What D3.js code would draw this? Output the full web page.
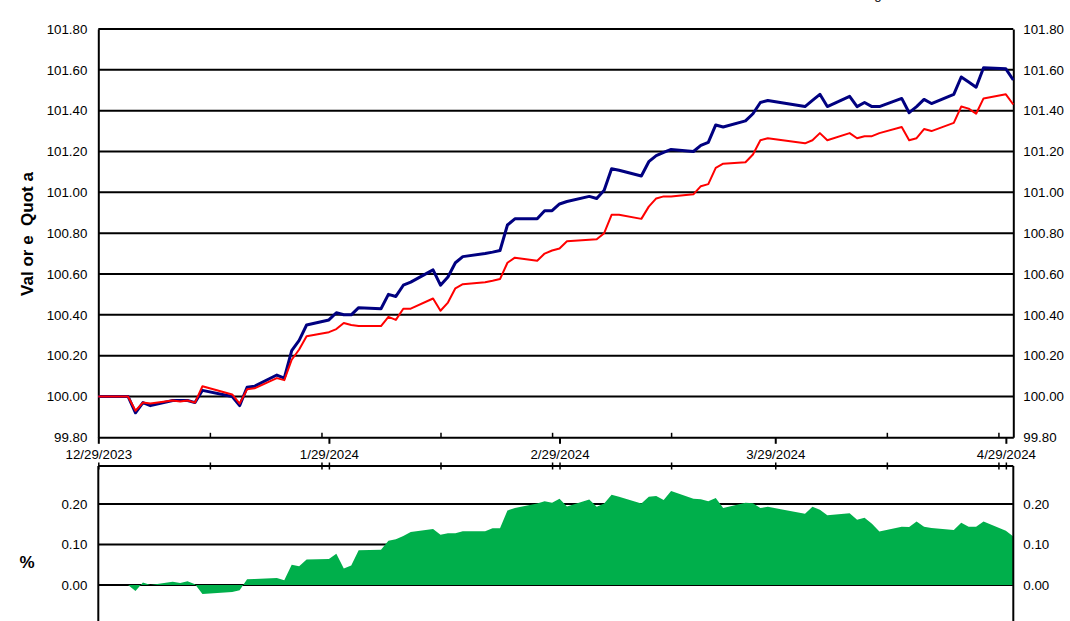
<!DOCTYPE html>
<html>
<head>
<meta charset="utf-8">
<script src="https://cdn.jsdelivr.net/npm/d3@7"></script>
<style>
  html, body { margin: 0; padding: 0; background: #fff; }
  svg { display: block; font-family: "Liberation Sans", Arial, sans-serif; }
</style>
</head>
<body>
<svg id="chart" width="1070" height="621"></svg>
<script>
// ---- data ----
const dates = [
  "2023-12-29","2024-01-02","2024-01-03","2024-01-04","2024-01-05",
  "2024-01-08","2024-01-09","2024-01-10","2024-01-11","2024-01-12",
  "2024-01-16","2024-01-17","2024-01-18","2024-01-19",
  "2024-01-22","2024-01-23","2024-01-24","2024-01-25","2024-01-26",
  "2024-01-29","2024-01-30","2024-01-31","2024-02-01","2024-02-02",
  "2024-02-05","2024-02-06","2024-02-07","2024-02-08","2024-02-09",
  "2024-02-12","2024-02-13","2024-02-14","2024-02-15","2024-02-16",
  "2024-02-19","2024-02-20","2024-02-21","2024-02-22","2024-02-23",
  "2024-02-26","2024-02-27","2024-02-28","2024-02-29","2024-03-01",
  "2024-03-04","2024-03-05","2024-03-06","2024-03-07","2024-03-08",
  "2024-03-11","2024-03-12","2024-03-13","2024-03-14","2024-03-15",
  "2024-03-18","2024-03-19","2024-03-20","2024-03-21","2024-03-22",
  "2024-03-25","2024-03-26","2024-03-27","2024-03-28",
  "2024-04-02","2024-04-03","2024-04-04","2024-04-05",
  "2024-04-08","2024-04-09","2024-04-10","2024-04-11","2024-04-12",
  "2024-04-15","2024-04-16","2024-04-17","2024-04-18","2024-04-19",
  "2024-04-22","2024-04-23","2024-04-24","2024-04-25","2024-04-26",
  "2024-04-29","2024-04-30"
];
const fundValues = [
  100.00,100.00,99.92,99.97,99.955,
  99.98,99.98,99.98,99.97,100.03,
  100.00,99.955,100.045,100.05,
  100.105,100.09,100.225,100.275,100.35,
  100.375,100.41,100.40,100.40,100.435,
  100.43,100.50,100.49,100.545,100.56,
  100.62,100.545,100.585,100.655,100.685,
  100.70,100.707,100.715,100.84,100.87,
  100.87,100.91,100.91,100.943,100.955,
  100.98,100.97,101.01,101.115,101.108,
  101.08,101.15,101.18,101.196,101.21,
  101.20,101.23,101.245,101.33,101.32,
  101.35,101.385,101.44,101.45,
  101.42,101.45,101.48,101.42,
  101.47,101.42,101.44,101.42,101.42,
  101.46,101.39,101.42,101.455,101.435,
  101.48,101.565,101.54,101.515,101.61,
  101.605,101.55
];
const benchmarkValues = [
  100.00,100.00,99.93,99.97,99.965,
  99.98,99.975,99.98,99.97,100.05,
  100.01,99.965,100.035,100.04,
  100.09,100.08,100.18,100.23,100.295,
  100.315,100.33,100.36,100.35,100.345,
  100.345,100.39,100.375,100.43,100.43,
  100.48,100.42,100.46,100.53,100.55,
  100.56,100.567,100.575,100.655,100.68,
  100.665,100.70,100.715,100.725,100.76,
  100.768,100.77,100.80,100.89,100.89,
  100.87,100.93,100.97,100.98,100.98,
  100.99,101.03,101.04,101.12,101.14,
  101.147,101.185,101.255,101.265,
  101.24,101.255,101.29,101.255,
  101.29,101.265,101.275,101.275,101.29,
  101.32,101.255,101.265,101.31,101.30,
  101.34,101.42,101.41,101.385,101.46,
  101.48,101.43
];
const diffValues = [
  0.000,0.000,-0.015,0.006,0.000,
  0.008,0.005,0.009,0.002,-0.022,
  -0.017,-0.013,0.014,0.015,
  0.017,0.012,0.050,0.046,0.063,
  0.064,0.077,0.041,0.048,0.086,
  0.087,0.109,0.113,0.121,0.131,
  0.138,0.124,0.128,0.128,0.133,
  0.133,0.140,0.140,0.184,0.190,
  0.201,0.207,0.203,0.213,0.194,
  0.211,0.193,0.201,0.223,0.218,
  0.201,0.218,0.220,0.210,0.232,
  0.213,0.212,0.207,0.215,0.190,
  0.203,0.202,0.190,0.193,
  0.176,0.193,0.186,0.172,
  0.177,0.161,0.166,0.151,0.132,
  0.144,0.143,0.157,0.144,0.141,
  0.136,0.154,0.144,0.144,0.157,
  0.134,0.120
];
const valueTicks = [99.8, 100.0, 100.2, 100.4, 100.6, 100.8, 101.0, 101.2, 101.4, 101.6, 101.8];
const diffTicks = [0.0, 0.1, 0.2];
const majorTickDates = ["2023-12-29","2024-01-29","2024-02-29","2024-03-29","2024-04-29"];
const minorTickDates = ["2024-01-13","2024-01-28","2024-02-13","2024-02-28","2024-03-15","2024-04-13","2024-04-28"];
const domainDates = ["2023-12-29","2024-04-30"];
const yTitle = "Val or e  Quot a";
const diffTitle = "%";

// ---- drawing ----
const parse = d3.utcParse("%Y-%m-%d");
const fmtDate = d3.utcFormat("%-m/%-d/%Y");
const rows = dates.map((d, i) => ({ date: parse(d), fund: fundValues[i], bench: benchmarkValues[i], diff: diffValues[i] }));
const majors = majorTickDates.map(parse);
const minors = minorTickDates.map(parse);

const svg = d3.select("#chart");
const L = 98.3, R = 1013.3;
const FONT = "13.3px";

const x = d3.scaleUtc().domain(domainDates.map(parse)).range([L, R]);
const yTop = d3.scaleLinear().domain([99.8, 101.8]).range([437.3, 29]);
const yBot = d3.scaleLinear().domain([0, 0.2]).range([585, 504]);
const BOX_TOP = 466;

// cut-off title descender at the top edge
svg.append("text").attr("x", 878).attr("y", -0.6).attr("text-anchor", "middle")
  .style("font-size", "13.3px").text("g");

// ===== top chart =====
const gTop = svg.append("g");
// gridlines
gTop.append("g").selectAll("line").data(valueTicks.filter(v => v > 99.8)).join("line")
  .attr("x1", L).attr("x2", R).attr("y1", d => yTop(d)).attr("y2", d => yTop(d))
  .attr("stroke", "#000").attr("stroke-width", 2);

// left / right axes
const leftAx = gTop.append("g").attr("transform", `translate(${L},0)`)
  .call(d3.axisLeft(yTop).tickValues(valueTicks).tickFormat(d3.format(".2f")).tickSize(0).tickPadding(11));
const rightAx = gTop.append("g").attr("transform", `translate(${R},0)`)
  .call(d3.axisRight(yTop).tickValues(valueTicks).tickFormat(d3.format(".2f")).tickSize(0).tickPadding(10));
[leftAx, rightAx].forEach(a => {
  a.select(".domain").attr("stroke", "#000").attr("stroke-width", 2);
  a.selectAll("text").style("font-size", FONT).attr("fill", "#000");
});

// bottom axis (major ticks outside, with labels)
const xAx = gTop.append("g").attr("transform", "translate(0,437.3)")
  .call(d3.axisBottom(x).tickValues(majors).tickFormat(fmtDate).tickSize(6.5).tickSizeOuter(0).tickPadding(5.5));
xAx.select(".domain").attr("stroke", "#000").attr("stroke-width", 2);
xAx.selectAll(".tick line").attr("stroke", "#000").attr("stroke-width", 2);
xAx.selectAll("text").style("font-size", FONT).attr("fill", "#000");
// minor ticks inside
const xMin = gTop.append("g").attr("transform", "translate(0,437.3)")
  .call(d3.axisTop(x).tickValues(minors).tickFormat("").tickSize(4.5).tickSizeOuter(0));
xMin.select(".domain").remove();
xMin.selectAll(".tick line").attr("stroke", "#000").attr("stroke-width", 1.5);

// lines
const lineBench = d3.line().x(d => x(d.date)).y(d => yTop(d.bench));
const lineFund = d3.line().x(d => x(d.date)).y(d => yTop(d.fund));
gTop.append("path").datum(rows).attr("d", lineFund)
  .attr("fill", "none").attr("stroke", "#000080").attr("stroke-width", 3).attr("stroke-linejoin", "round");
gTop.append("path").datum(rows).attr("d", lineBench)
  .attr("fill", "none").attr("stroke", "#ff0000").attr("stroke-width", 2).attr("stroke-linejoin", "round");

// y title
svg.append("text").attr("transform", "translate(33,234) rotate(-90)")
  .attr("text-anchor", "middle").style("font-size", "17px").style("font-weight", "bold")
  .style("white-space", "pre").text(yTitle);

// ===== bottom chart =====
const gBot = svg.append("g");
gBot.append("g").selectAll("line").data(diffTicks).join("line")
  .attr("x1", L).attr("x2", R).attr("y1", d => yBot(d)).attr("y2", d => yBot(d))
  .attr("stroke", "#000").attr("stroke-width", 2);

const area = d3.area().x(d => x(d.date)).y0(yBot(0)).y1(d => yBot(d.diff));
gBot.append("path").datum(rows).attr("d", area).attr("fill", "#00af4b");

// frame
gBot.append("line").attr("x1", L).attr("x2", R).attr("y1", BOX_TOP).attr("y2", BOX_TOP).attr("stroke", "#000").attr("stroke-width", 2);
gBot.append("line").attr("x1", L).attr("x2", L).attr("y1", BOX_TOP).attr("y2", 640).attr("stroke", "#000").attr("stroke-width", 2);
gBot.append("line").attr("x1", R).attr("x2", R).attr("y1", BOX_TOP).attr("y2", 640).attr("stroke", "#000").attr("stroke-width", 2);

const allTicks = majors.concat(minors);
[d3.axisTop(x), d3.axisBottom(x)].forEach(ax => {
  const g = gBot.append("g").attr("transform", `translate(0,${BOX_TOP})`)
    .call(ax.tickValues(allTicks).tickFormat("").tickSize(3.5).tickSizeOuter(0));
  g.select(".domain").remove();
  g.selectAll(".tick line").attr("stroke", "#000").attr("stroke-width", 1.5);
});

const lB = gBot.append("g").attr("transform", `translate(${L},0)`)
  .call(d3.axisLeft(yBot).tickValues(diffTicks).tickFormat(d3.format(".2f")).tickSize(0).tickPadding(11));
const rB = gBot.append("g").attr("transform", `translate(${R},0)`)
  .call(d3.axisRight(yBot).tickValues(diffTicks).tickFormat(d3.format(".2f")).tickSize(0).tickPadding(10));
[lB, rB].forEach(a => {
  a.select(".domain").remove();
  a.selectAll("text").style("font-size", FONT).attr("fill", "#000");
});

svg.append("text").attr("x", 27).attr("y", 568).attr("text-anchor", "middle")
  .style("font-size", "17px").style("font-weight", "bold").text(diffTitle);
</script>
</body>
</html>
